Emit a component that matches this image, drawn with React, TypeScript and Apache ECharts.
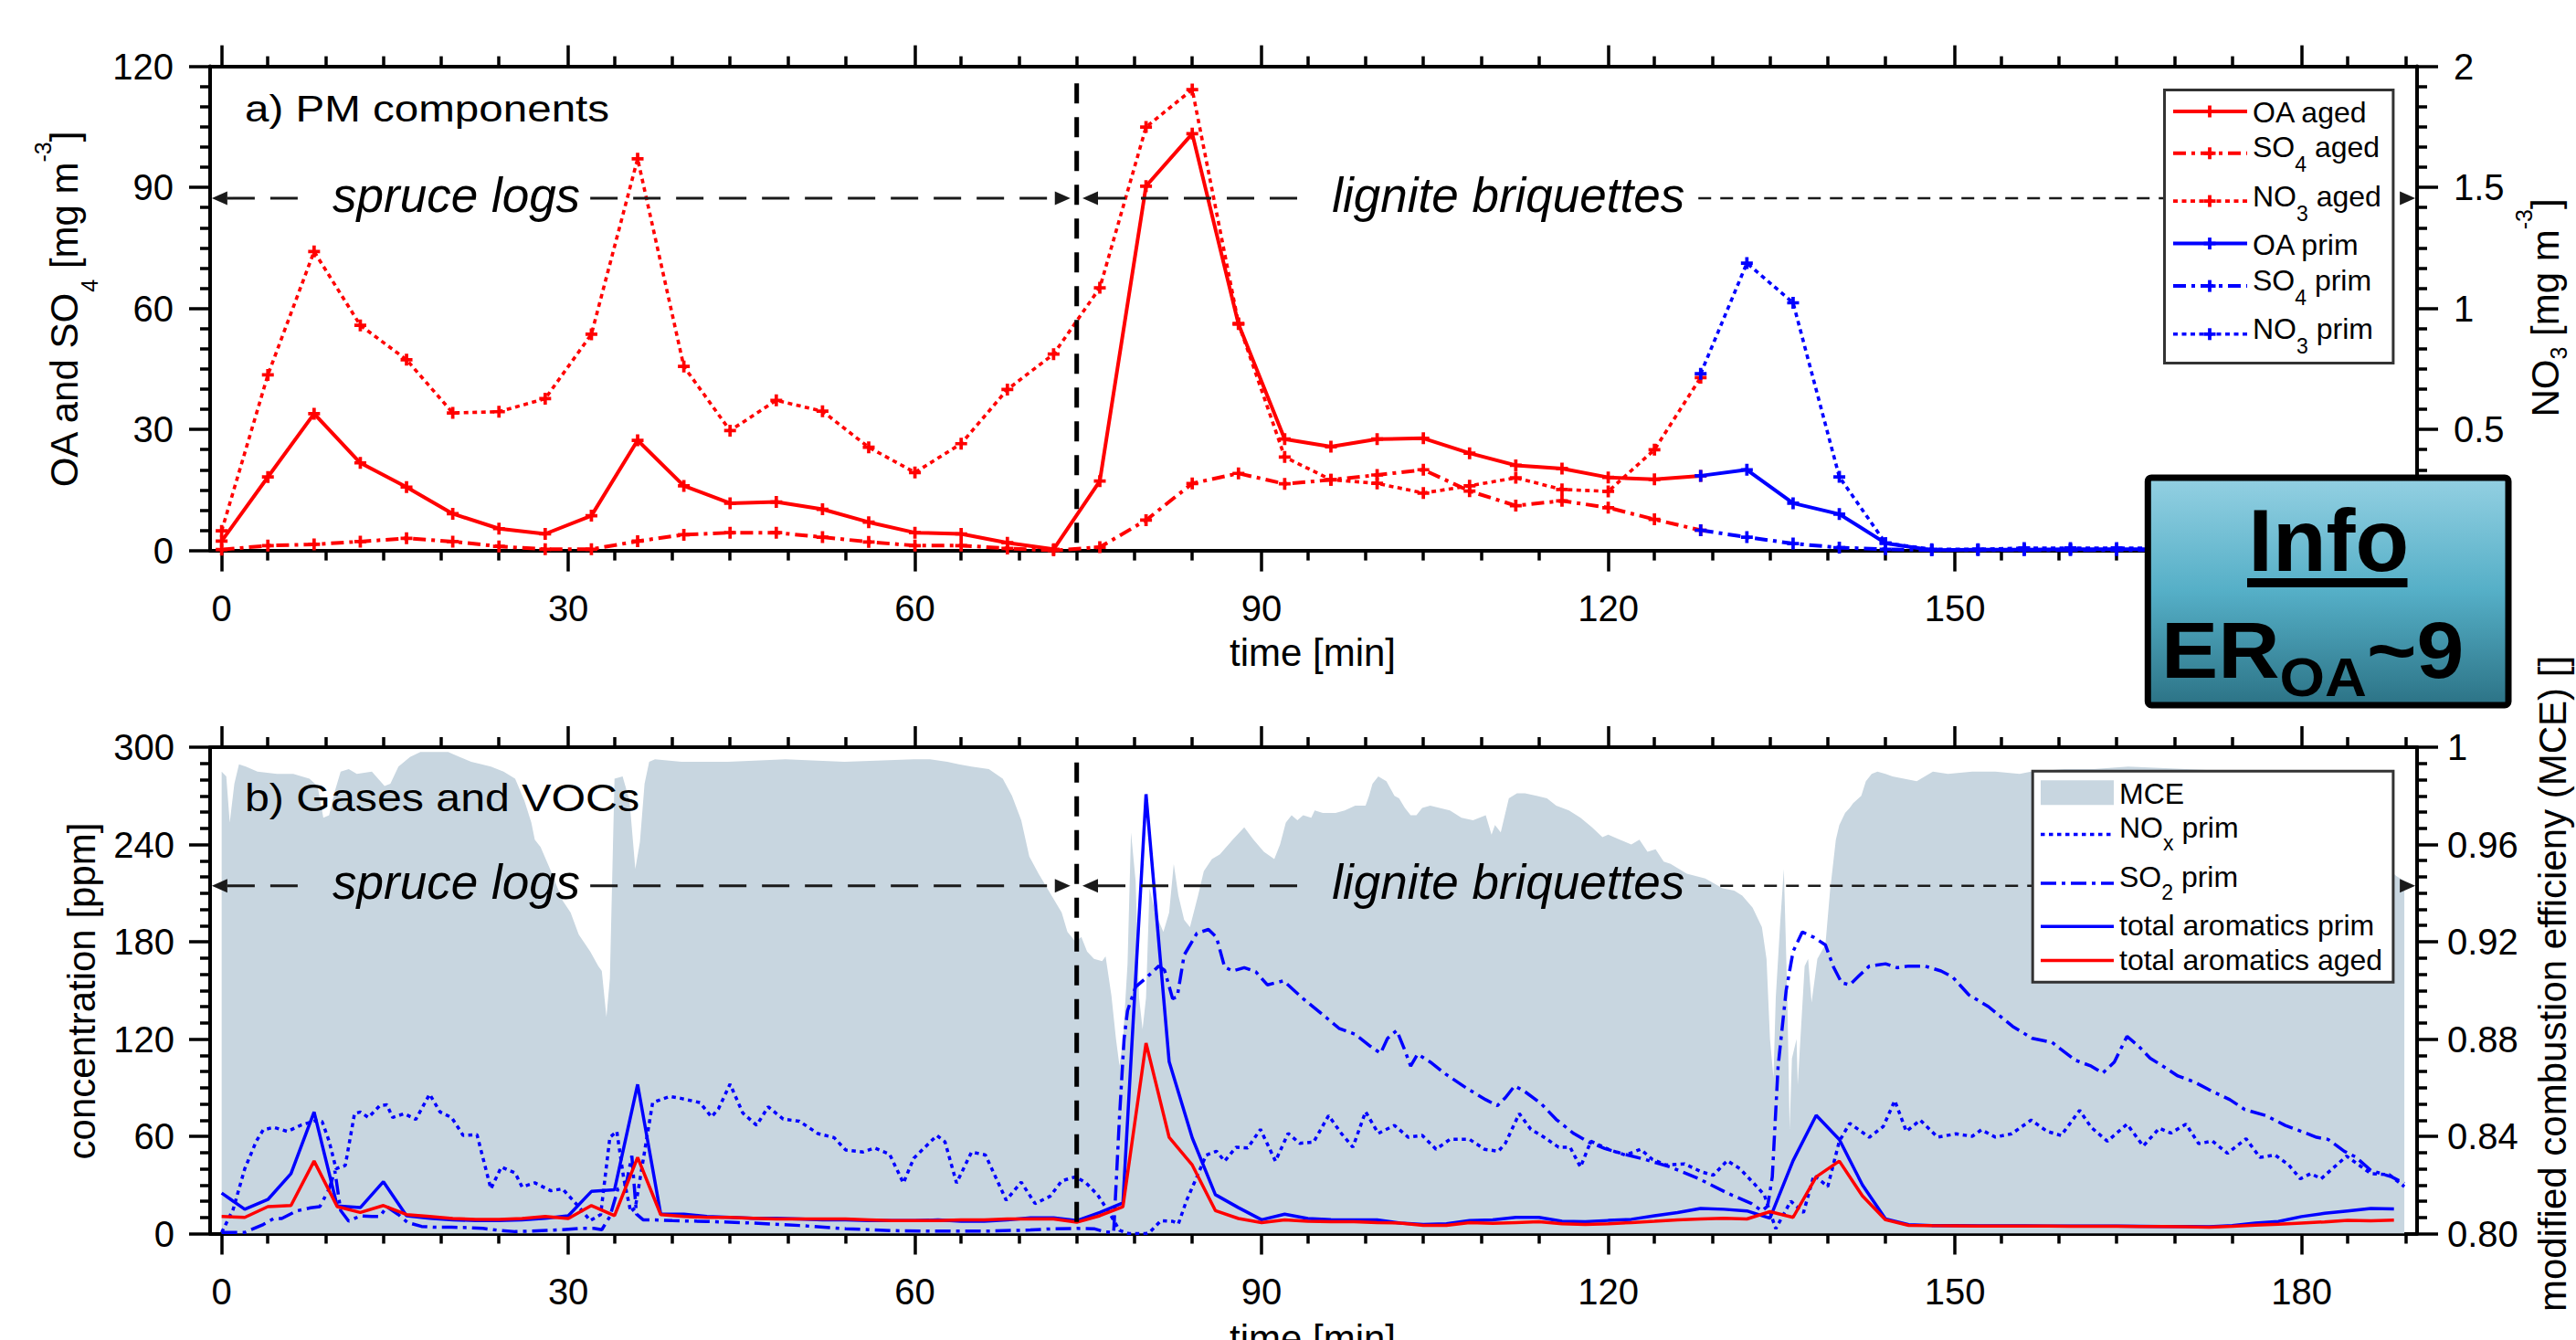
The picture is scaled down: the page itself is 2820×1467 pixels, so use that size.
import React, { useEffect, useRef } from 'react';
import * as echarts from 'echarts';

const FONT = "'Liberation Sans', Arial, Helvetica, sans-serif";
const RED = '#ff0000';
const BLUE = '#0000ff';
const MCE_COLOR = '#c8d6e0';
const DARK = '#1a1a1a';

// ---------- axis ticks ----------
const majorTicks = [0, 30, 60, 90, 120, 150, 180];
const minorTicks = [4, 9, 14, 19, 24, 34, 39, 44, 49, 54, 64, 69, 74, 79, 84, 94, 99, 104, 109, 114, 124, 129, 134, 139, 144, 154, 159, 164, 169, 174, 184, 189];

// ---------- panel a) PM components (every 4 min) ----------
const pmTimeAged = [0, 4, 8, 12, 16, 20, 24, 28, 32, 36, 40, 44, 48, 52, 56, 60, 64, 68, 72, 76, 80, 84, 88, 92, 96, 100, 104, 108, 112, 116, 120, 124, 128];
const oaAged = [2.3, 18.2, 33.9, 21.7, 15.7, 9.1, 5.4, 4.1, 8.6, 27.3, 16.0, 11.7, 12.0, 10.2, 7.0, 4.4, 4.1, 1.9, 0.3, 17.2, 90.3, 103.3, 56.1, 27.6, 25.7, 27.6, 27.8, 24.1, 21.1, 20.3, 18.1, 17.6, 18.5];
const so4Aged = [0.2, 1.2, 1.5, 2.2, 3.0, 2.2, 1.0, 0.3, 0.3, 2.3, 3.9, 4.4, 4.4, 3.3, 2.1, 1.2, 1.2, 0.5, 0.0, 0.8, 7.5, 16.6, 19.1, 16.5, 17.5, 18.7, 20.0, 14.7, 11.1, 12.3, 10.6, 7.7, 5.0];
const no3Aged = [0.081, 0.725, 1.235, 0.93, 0.788, 0.568, 0.573, 0.627, 0.893, 1.618, 0.76, 0.495, 0.62, 0.575, 0.426, 0.322, 0.441, 0.665, 0.811, 1.085, 1.749, 1.904, 0.938, 0.386, 0.292, 0.277, 0.237, 0.267, 0.3, 0.252, 0.244, 0.416, 0.714];
const pmTimePrim = [128, 132, 136, 140, 144, 148, 152, 156, 160, 164, 168, 172, 176, 180, 184, 188];
const oaPrim = [18.5, 20.0, 11.7, 9.0, 1.8, 0.1, 0.2, 0.2, 0.3, 0.3, 0.3, 0.3, 0.3, 0.3, 0.3, 0.3];
const so4Prim = [5.0, 3.3, 1.7, 0.7, 0.3, 0.1, 0.1, 0.1, 0.1, 0.1, 0.1, 0.1, 0.1, 0.1, 0.1, 0.1];
const no3Prim = [0.73, 1.187, 1.023, 0.304, 0.03, 0.005, 0.005, 0.01, 0.01, 0.01, 0.01, 0.01, 0.01, 0.01, 0.01, 0.01];

// ---------- panel b) Gases and VOCs ----------
const aromTime = [0, 2, 4, 6, 8, 10, 12, 14, 16, 18, 20, 22, 24, 26, 28, 30, 32, 34, 36, 38, 40, 42, 44, 46, 48, 50, 52, 54, 56, 58, 60, 62, 64, 66, 68, 70, 72, 74, 76, 78, 80, 82, 84, 86, 88, 90, 92, 94, 96, 98, 100, 102, 104, 106, 108, 110, 112, 114, 116, 118, 120, 122, 124, 126, 128, 130, 132, 134, 136, 138, 140, 142, 144, 146, 148, 150, 152, 154, 156, 158, 160, 162, 164, 166, 168, 170, 172, 174, 176, 178, 180, 182, 184, 186, 188];
const aromPrim = [25, 15, 21, 37, 75, 17, 16, 32, 11, 9.5, 8.5, 8, 8, 8.5, 9.5, 11, 26, 27, 92, 12, 12, 10.5, 10, 9.5, 9.5, 9, 8.5, 8.5, 8, 8, 8, 8.4, 7.6, 7.6, 8.4, 9.7, 9.7, 8, 13, 19, 271, 106, 59, 24, 16, 8.5, 12, 9.3, 8.6, 8.5, 8.4, 6.5, 5.6, 6.1, 8, 8.5, 10, 10, 7.6, 7.3, 8.1, 8.8, 11, 13, 15.5, 15, 14, 9.5, 45, 73, 58, 30, 9, 5.5, 5, 5, 4.8, 4.8, 4.8, 4.7, 4.7, 4.6, 4.6, 4.5, 4.4, 4.3, 4.2, 5, 6.5, 7.5, 10.5, 12.5, 14, 15.5, 15.2];
const aromAged = [10.5, 10, 16.6, 17.3, 44.7, 16.6, 13, 17.3, 11.7, 10.5, 9.3, 8.8, 8.8, 9.3, 10.5, 9.3, 17.3, 11, 47, 11.7, 10.5, 10, 10, 9.5, 9, 9, 9, 9, 8.5, 8, 8, 8, 8.5, 8.5, 9, 9, 9, 7, 11, 16.6, 117.5, 59.4, 42.3, 14.2, 9.3, 6.8, 8.5, 7.6, 7.3, 7.3, 6.8, 6.5, 5.1, 5.1, 6.8, 6.3, 6.8, 7.3, 6.1, 5.6, 6.1, 6.8, 7.6, 8.5, 9, 9.5, 9, 13.5, 10, 35, 44.7, 23.2, 8.5, 5.1, 4.9, 4.8, 4.7, 4.7, 4.6, 4.6, 4.5, 4.5, 4.5, 4.4, 4.3, 4.2, 3.9, 4.5, 5.2, 5.8, 6.5, 7.2, 8.2, 7.9, 8.3];

// [time, ppm]
const noxPrim: number[][] = [[0, 0.7], [1, 15], [2, 40], [3, 57], [3.6, 64], [4.5, 65.5], [5.7, 63], [6.9, 67], [8.3, 70], [8.7, 69], [9.3, 57], [9.9, 40], [10.7, 42], [11.5, 74], [12, 75], [12.7, 71.6], [13.7, 79], [14.3, 79.4], [14.8, 71.6], [15.8, 74], [16.8, 70.4], [18, 86], [18.9, 75], [19.9, 71.6], [20.9, 60.6], [22.1, 61], [23.3, 27.6], [24.2, 41], [25.4, 37.4], [26, 28.8], [27.1, 31.3], [28.5, 26.4], [29.5, 27.6], [30.9, 16.6], [31.9, 8], [32.8, 11.7], [33.6, 59.4], [34.2, 63], [34.8, 33.8], [35.4, 13.5], [35.8, 16], [37.3, 80.8], [38.8, 84.6], [39.8, 83.3], [41.4, 80.8], [42.4, 71.9], [43, 77], [44, 92.2], [45.1, 74.4], [46.3, 66.8], [47.3, 78.2], [48.6, 70.6], [50, 69.3], [51.6, 61.7], [53, 59.2], [54, 51.6], [55.5, 50.3], [56.5, 52.8], [57.8, 49], [59, 31.2], [59.9, 46.5], [61.9, 60.5], [62.6, 56.6], [63.6, 31.2], [64.9, 50.3], [66.1, 48.5], [67.9, 20.6], [69.2, 31.7], [70.4, 18.5], [71.7, 23], [72.7, 32.5], [73.9, 35], [74.8, 31.3], [75.8, 24], [76.8, 13], [77.7, 2], [78.5, 0], [80, 0], [80.3, 0.7], [81.3, 8], [82.3, 7.6], [82.8, 6], [83.5, 20.3], [84.4, 35], [85.2, 48.4], [86.1, 50.8], [86.8, 44.7], [87.8, 53.3], [88.8, 52.8], [89.9, 64.3], [91.2, 44.7], [92.3, 61.8], [93.3, 55.7], [94.5, 56.4], [95.8, 72.8], [96.9, 61.8], [97.9, 53.3], [99, 75.2], [100.1, 61.8], [101.5, 66.7], [102.7, 59.4], [103.9, 60.6], [105.1, 52], [106.3, 58.1], [108, 58.1], [109.3, 52], [110.5, 50.8], [111.1, 55.7], [112.3, 74], [113.3, 64.3], [114.2, 60.6], [115.7, 53.3], [116.7, 53.3], [117.6, 41], [118.5, 57], [120, 52], [121.5, 48.4], [122.8, 52], [123.8, 45.9], [125, 42.3], [126.6, 43], [128.1, 38], [129.1, 36], [130.3, 45], [131.4, 40], [132.6, 31], [133.5, 24], [134.5, 3], [135.8, 20], [136.9, 13], [137.8, 36], [139, 29], [140, 57], [140.9, 68], [142.6, 59.4], [143.8, 66], [144.8, 82], [145.8, 63], [147, 70], [148.5, 59.5], [150.1, 61.5], [151.5, 60], [152.3, 64], [153.5, 59.5], [154.9, 61.5], [156.6, 70], [158, 63], [159.2, 60.5], [160.8, 76], [161.8, 65.5], [163.2, 57], [164.9, 67.5], [166.3, 54], [167.7, 65], [168.7, 62], [170, 67.5], [171.1, 55.5], [172.3, 57], [173.6, 49.5], [175.2, 58.5], [176.4, 47], [177.7, 48.5], [178.9, 42.3], [179.9, 33.8], [180.8, 37], [181.7, 33.8], [183.9, 47.8], [186, 37], [187.6, 36.3], [188.9, 29]];

const so2Prim: number[][] = [[0, 0.7], [2, 0.7], [3.6, 5.6], [4.5, 9.3], [5.2, 9.3], [6.5, 14], [7.7, 15.9], [8.5, 16.6], [9.3, 27.6], [9.8, 38.6], [10.3, 14.2], [11, 7.6], [12, 11], [13, 10.5], [13.7, 10.5], [14.3, 16.6], [15.3, 11.7], [16.1, 6.8], [17.3, 4.4], [18.5, 3.9], [19.9, 3.9], [21.3, 3.7], [22.6, 3.2], [24, 2], [25.4, 1.2], [26.8, 1.5], [28.1, 2], [29.5, 2.4], [30.9, 3.2], [32.2, 3.2], [32.9, 2.4], [33.6, 10.5], [34.3, 27.6], [35, 30], [35.5, 48], [35.9, 12], [36.5, 8.4], [37.5, 8.4], [39, 8], [42, 7.5], [46, 6.5], [50, 5], [54, 3], [58, 1.8], [62, 1.5], [66, 1.5], [70, 2.2], [72, 3], [74, 3.2], [75.5, 3], [76.5, 1], [77.2, 0.7], [77.7, 71.6], [78.1, 120], [78.4, 137.5], [79.1, 152.2], [80.1, 158.3], [81.1, 165], [81.6, 162.5], [82.3, 144.9], [82.7, 146], [83.3, 171.8], [84.4, 185.2], [85.4, 187.6], [86.1, 182.7], [86.8, 164.4], [87.5, 162], [88.5, 164], [89.5, 161.5], [90.5, 153.4], [91.9, 155.9], [93.6, 144.9], [95.3, 135], [96.7, 126.6], [98.1, 122.9], [99.4, 115.6], [100.3, 111.2], [100.9, 120.4], [101.7, 125.3], [102.4, 113], [102.9, 103.3], [103.5, 110.7], [104.6, 105.8], [105.9, 98.5], [107.7, 89.9], [109.4, 82.6], [110.4, 78.9], [111.1, 83.8], [111.9, 91.1], [112.8, 87.5], [114.2, 80.1], [115.5, 70.4], [117, 61.8], [118.3, 56.4], [119.7, 52.5], [121.4, 48.9], [123.1, 45.9], [125.4, 41], [127.8, 34], [130.3, 25], [132.4, 18.5], [133.3, 14], [133.8, 17], [134.2, 35], [134.7, 103], [135.4, 150], [136, 174], [136.8, 186], [137.8, 182.7], [138.8, 178], [139.5, 164.4], [140.2, 154.7], [140.9, 153.4], [141.6, 158.3], [142.6, 165], [144, 166.4], [145, 164], [146, 165], [147.4, 165], [148.8, 162], [149.8, 158.3], [151.2, 147.3], [152.9, 140], [155, 127.8], [156.7, 120.4], [158.4, 118], [160.4, 107], [161.8, 103.3], [162.8, 99], [163.8, 105.8], [164.9, 121.7], [165.9, 115.6], [166.9, 108.2], [168, 103.3], [169.3, 97.2], [170.7, 93.6], [172, 88.7], [173.8, 82.6], [175.1, 76.5], [176.9, 72.8], [178.6, 66.7], [180, 63], [181.3, 59.4], [182.3, 58.1], [183.7, 50.8], [184.7, 47.2], [186, 39], [187.8, 35], [188.9, 31]];

// [time, MCE]
const mce: number[][] = [[0, 0.99], [0.4, 0.988], [0.7, 0.969], [1.1, 0.985], [1.5, 0.993], [2.1, 0.992], [3.1, 0.99], [4.8, 0.989], [6.2, 0.989], [7.6, 0.987], [8.3, 0.984], [8.8, 0.971], [9.3, 0.972], [9.8, 0.982], [10.3, 0.99], [11, 0.991], [11.7, 0.989], [13, 0.99], [14.1, 0.984], [14.6, 0.985], [15.3, 0.992], [16.3, 0.996], [17.2, 0.998], [18.5, 0.998], [19.6, 0.998], [20.6, 0.996], [21.6, 0.994], [22.5, 0.993], [23.3, 0.992], [24.4, 0.99], [25.4, 0.987], [26.2, 0.978], [26.8, 0.969], [27.1, 0.962], [27.6, 0.959], [28.5, 0.949], [29.5, 0.937], [30.2, 0.932], [30.9, 0.923], [31.9, 0.916], [32.6, 0.91], [32.9, 0.908], [33.3, 0.889], [33.6, 0.905], [34, 0.987], [34.7, 0.988], [35.3, 0.978], [35.8, 0.95], [36.2, 0.961], [36.6, 0.985], [37, 0.994], [37.5, 0.995], [39.8, 0.994], [43.8, 0.994], [48.8, 0.995], [53.9, 0.994], [59.9, 0.995], [61.3, 0.995], [62.8, 0.994], [63.8, 0.993], [64.9, 0.992], [66.4, 0.991], [67.6, 0.987], [68.4, 0.98], [69.2, 0.97], [69.9, 0.955], [70.7, 0.948], [71.7, 0.94], [72.7, 0.932], [73.2, 0.924], [73.9, 0.92], [74.4, 0.922], [74.9, 0.916], [75.5, 0.913], [76.2, 0.912], [76.5, 0.914], [77, 0.898], [77.4, 0.88], [77.7, 0.869], [78, 0.879], [78.4, 0.911], [78.7, 0.965], [79.1, 0.945], [79.4, 0.897], [79.7, 0.884], [80, 0.897], [80.3, 0.942], [80.8, 0.932], [81.5, 0.924], [82, 0.932], [82.4, 0.952], [82.8, 0.939], [83.3, 0.929], [83.8, 0.926], [84.5, 0.939], [85, 0.949], [85.7, 0.954], [86.4, 0.956], [87.5, 0.962], [88.5, 0.967], [89.3, 0.962], [90.2, 0.957], [91.1, 0.954], [91.6, 0.96], [92.1, 0.969], [92.6, 0.972], [93.1, 0.97], [93.6, 0.972], [94.3, 0.971], [94.6, 0.974], [95.3, 0.973], [96.4, 0.973], [97.2, 0.974], [98.1, 0.976], [99, 0.976], [99.3, 0.98], [99.6, 0.985], [100.1, 0.988], [100.8, 0.986], [101.5, 0.98], [101.9, 0.979], [102.4, 0.975], [102.9, 0.972], [103.4, 0.972], [103.9, 0.975], [104.6, 0.976], [105.4, 0.975], [106.3, 0.974], [107.3, 0.971], [108.3, 0.97], [109.4, 0.972], [109.9, 0.964], [110.2, 0.968], [110.7, 0.965], [111.4, 0.979], [112.1, 0.981], [112.8, 0.981], [113.8, 0.98], [114.7, 0.979], [115.5, 0.976], [116.6, 0.974], [117.6, 0.971], [118.6, 0.967], [119.5, 0.963], [120, 0.964], [121, 0.962], [122, 0.96], [122.7, 0.962], [123.4, 0.957], [124.1, 0.958], [124.8, 0.953], [125.4, 0.952], [126.8, 0.948], [128.4, 0.946], [129.9, 0.942], [130.9, 0.941], [131.6, 0.939], [132.5, 0.934], [133.3, 0.926], [133.7, 0.913], [134, 0.88], [134.3, 0.864], [134.5, 0.897], [134.9, 0.929], [135.2, 0.95], [135.5, 0.897], [135.7, 0.843], [135.9, 0.872], [136.3, 0.88], [136.4, 0.861], [137, 0.91], [137.3, 0.913], [137.6, 0.895], [138.1, 0.913], [138.8, 0.919], [139.2, 0.941], [139.7, 0.962], [140, 0.968], [140.5, 0.973], [140.9, 0.975], [141.2, 0.977], [141.9, 0.98], [142.3, 0.986], [142.8, 0.989], [143.3, 0.99], [144, 0.989], [144.6, 0.988], [145.6, 0.987], [146.7, 0.986], [147.4, 0.988], [148.1, 0.99], [149.4, 0.989], [151.5, 0.99], [153.5, 0.99], [155.6, 0.989], [156.6, 0.99], [159.5, 0.991], [162, 0.991], [165, 0.992], [170, 0.991], [175, 0.99], [180, 0.988], [184, 0.98], [186, 0.965], [187.5, 0.95], [188.2, 0.947], [188.9, 0.945]];

// ---------- styles ----------
const PLUS = 'path://M5,0H9V5H14V9H9V14H5V9H0V5H5Z';
const SOLID = 'solid';
const DASHDOT_TOP = [14, 6, 4, 6];
const DOT_TOP = [5, 4.5];
const DASHDOT_BOT = [17, 6, 4, 6];
const DOT_BOT = [4.5, 4.5];

const axisLineStyle = { color: '#000', width: 4 };
const tickStyle = { color: '#000', width: 3.5 };
const labelStyle = { fontSize: 40, fontFamily: FONT, color: '#000' };

function xAxesFor(gridIndex: number) {
  const base = { gridIndex, type: 'value', min: -1, max: 190, splitLine: { show: false } };
  return [
    { ...base, position: 'bottom', axisLine: { show: true, onZero: false, lineStyle: axisLineStyle }, axisTick: { show: true, length: 23, lineStyle: tickStyle, customValues: majorTicks }, axisLabel: { show: true, ...labelStyle, margin: 43, customValues: majorTicks } },
    { ...base, position: 'bottom', axisLine: { show: false, onZero: false }, axisTick: { show: true, length: 11, lineStyle: tickStyle, customValues: minorTicks }, axisLabel: { show: false, customValues: minorTicks } },
    { ...base, position: 'top', axisLine: { show: true, onZero: false, lineStyle: axisLineStyle }, axisTick: { show: true, length: 23, lineStyle: tickStyle, customValues: majorTicks }, axisLabel: { show: false, customValues: majorTicks } },
    { ...base, position: 'top', axisLine: { show: false, onZero: false }, axisTick: { show: true, length: 11, lineStyle: tickStyle, customValues: minorTicks }, axisLabel: { show: false, customValues: minorTicks } },
  ];
}

function yAxis(gridIndex: number, position: string, min: number, max: number, interval: number, margin: number, formatter?: (v: number) => string) {
  return {
    gridIndex, type: 'value', position, min, max, interval,
    axisLine: { show: true, onZero: false, lineStyle: axisLineStyle },
    axisTick: { show: true, length: 23, lineStyle: tickStyle },
    minorTick: { show: true, splitNumber: 6, length: 11, lineStyle: tickStyle },
    axisLabel: { ...labelStyle, margin, ...(formatter ? { formatter } : {}) },
    splitLine: { show: false },
    minorSplitLine: { show: false },
  };
}

const zip = (t: number[], v: number[]) => t.map((x, i) => [x, v[i]]);

function pmLine(name: string, t: number[], v: number[], color: string, type: any, width: number, yAxisIndex: number) {
  return {
    name, type: 'line', xAxisIndex: 0, yAxisIndex, data: zip(t, v),
    symbol: PLUS, symbolSize: 13, showSymbol: true,
    lineStyle: { color, width, type, cap: 'butt' },
    itemStyle: { color, borderWidth: 0 },
    emphasis: { disabled: true }, z: 3,
  };
}

function gasLine(name: string, data: number[][], color: string, type: any, width: number) {
  return {
    name, type: 'line', xAxisIndex: 4, yAxisIndex: 2, data,
    symbol: 'none', showSymbol: false,
    lineStyle: { color, width, type, cap: 'butt' },
    itemStyle: { color },
    emphasis: { disabled: true }, z: 3,
  };
}

const option: any = {
  animation: false,
  backgroundColor: '#fff',
  grid: [
    { left: 230, top: 72.6, width: 2416, height: 530, containLabel: false },
    { left: 230, top: 818, width: 2416, height: 532.5, containLabel: false },
  ],
  xAxis: [...xAxesFor(0), ...xAxesFor(1)],
  yAxis: [
    yAxis(0, 'left', 0, 120, 30, 40),
    yAxis(0, 'right', 0, 2, 0.5, 40),
    yAxis(1, 'left', 0, 300, 60, 39),
    yAxis(1, 'right', 0.8, 1.0, 0.04, 33, (v: number) => (Math.abs(v - 1) < 1e-9 ? '1' : v.toFixed(2))),
  ],
  series: [
    pmLine('OA aged', pmTimeAged, oaAged, RED, SOLID, 4, 0),
    pmLine('SO4 aged', pmTimeAged, so4Aged, RED, DASHDOT_TOP, 4, 0),
    pmLine('NO3 aged', pmTimeAged, no3Aged, RED, DOT_TOP, 3.6, 1),
    pmLine('OA prim', pmTimePrim, oaPrim, BLUE, SOLID, 4, 0),
    pmLine('SO4 prim', pmTimePrim, so4Prim, BLUE, DASHDOT_TOP, 4, 0),
    pmLine('NO3 prim', pmTimePrim, no3Prim, BLUE, DOT_TOP, 3.6, 1),
    {
      name: 'MCE', type: 'line', xAxisIndex: 4, yAxisIndex: 3, data: mce,
      symbol: 'none', showSymbol: false,
      lineStyle: { width: 0, color: MCE_COLOR },
      areaStyle: { color: MCE_COLOR, opacity: 1, origin: 'start' },
      emphasis: { disabled: true }, z: 1,
    },
    gasLine('NOx prim', noxPrim, BLUE, DOT_BOT, 3.5),
    gasLine('SO2 prim', so2Prim, BLUE, DASHDOT_BOT, 3.5),
    gasLine('total aromatics prim', zip(aromTime, aromPrim), BLUE, SOLID, 3.5),
    gasLine('total aromatics aged', zip(aromTime, aromAged), RED, SOLID, 3.5),
  ],
};

function txt(x: number, y: number, text: string, extra: any = {}, el: any = {}) {
  return {
    type: 'text', x, y, z: 60, silent: true, ...el,
    style: { text, fontSize: 42, fontFamily: FONT, fill: '#000', align: 'left', verticalAlign: 'middle', ...extra },
  };
}

function subRich(main: number, sub: number, pad: number, weight = 'normal') {
  return {
    m: { fontSize: main, fontFamily: FONT, fontWeight: weight, fill: '#000' },
    s: { fontSize: sub, fontFamily: FONT, fontWeight: weight, fill: '#000', padding: [pad, 0, 0, 0] },
    p: { fontSize: sub, fontFamily: FONT, fontWeight: weight, fill: '#000', padding: [0, 0, 46, 0] },
  };
}

export default function App() {
  const ref = useRef<HTMLDivElement>(null);
  useEffect(() => {
    const chart = echarts.init(ref.current as HTMLDivElement, null, { renderer: 'svg' });
    chart.setOption(option);

    const P0 = (x: number, y: number) => chart.convertToPixel({ xAxisIndex: 0, yAxisIndex: 0 } as any, [x, y]) as unknown as number[];
    const P1 = (x: number, y: number) => chart.convertToPixel({ xAxisIndex: 4, yAxisIndex: 2 } as any, [x, y]) as unknown as number[];

    const els: any[] = [];
    const head = 17, half = 7.5;
    const arrowL = (x: number, y: number) => ({ type: 'polygon', z: 50, silent: true, shape: { points: [[x, y], [x + head, y - half], [x + head, y + half]] }, style: { fill: DARK } });
    const arrowR = (x: number, y: number) => ({ type: 'polygon', z: 50, silent: true, shape: { points: [[x, y], [x - head, y - half], [x - head, y + half]] }, style: { fill: DARK } });
    const dline = (x1: number, y1: number, x2: number, y2: number, dash: number[], w: number, color = DARK, z = 50) => ({ type: 'line', z, silent: true, shape: { x1, y1, x2, y2 }, style: { stroke: color, lineWidth: w, lineDash: dash } });

    const arrowRow = (P: (x: number, y: number) => number[], yv: number) => {
      const y = P(0, yv)[1];
      const X = (t: number) => P(t, yv)[0];
      const longDash = [30, 17];
      const xl = X(-0.85);
      els.push(arrowL(xl, y));
      els.push(dline(xl + head, y, X(7.8), y, longDash, 3));
      els.push(txt(X(9.6), y - 4, 'spruce logs', { fontSize: 53, fontStyle: 'italic' }));
      const xr = X(73.45);
      els.push(dline(X(31.9), y, xr - head, y, longDash, 3));
      els.push(arrowR(xr, y));
      const xl2 = X(74.5);
      els.push(arrowL(xl2, y));
      els.push(dline(xl2 + head, y, X(94.4), y, longDash, 3));
      els.push(txt(X(96.1), y - 4, 'lignite briquettes', { fontSize: 53, fontStyle: 'italic' }));
      const xr2 = X(189.85);
      els.push(dline(X(127.8), y, xr2 - head, y, [14, 10], 2.5));
      els.push(arrowR(xr2, y));
    };
    arrowRow(P0, 87.3);
    arrowRow(P1, 214.5);

    // vertical separators at t = 74 min
    const a0 = P0(74, 115.8), b0 = P0(74, 0);
    els.push(dline(a0[0], a0[1], b0[0], b0[1], [22, 15], 5, '#000', 45));
    const a1 = P1(74, 290.5), b1 = P1(74, 0);
    els.push(dline(a1[0], a1[1], b1[0], b1[1], [22, 15], 5, '#000', 45));

    // panel titles
    els.push(txt(268, 119, 'a) PM components', { fontSize: 41 }, { scaleX: 1.16 }));
    els.push(txt(268, 874, 'b) Gases and VOCs', { fontSize: 42 }, { scaleX: 1.15 }));

    // axis titles
    els.push(txt(1437, 714, 'time [min]', { fontSize: 42, align: 'center' }));
    els.push(txt(1437, 1465, 'time [min]', { fontSize: 42, align: 'center' }));
    els.push(txt(70.3, 339, '{m|OA and SO}{s|4}{m| [mg m}{p|-3}{m|]}', { align: 'center', rich: subRich(42, 25, 56) }, { rotation: Math.PI / 2 }));
    els.push(txt(2786, 337, '{m|NO}{s|3}{m| [mg m}{p|-3}{m|]}', { align: 'center', rich: subRich(42, 25, 30) }, { rotation: Math.PI / 2 }));
    els.push(txt(89.5, 1085, 'concentration [ppm]', { fontSize: 42, align: 'center' }, { rotation: Math.PI / 2 }));
    els.push(txt(2794, 1077, 'modified combustion efficieny (MCE) []', { fontSize: 42, align: 'center' }, { rotation: Math.PI / 2 }));

    // legend a)
    const LZ = 100;
    els.push({ type: 'rect', z: LZ, silent: true, shape: { x: 2369.5, y: 98.6, width: 250.4, height: 298.9 }, style: { fill: '#fff', stroke: '#333', lineWidth: 3 } });
    const legA = [
      { t: '{m|OA aged}', c: RED, d: [] as number[], w: 4, y: 122, ty: 122.5 },
      { t: '{m|SO}{s|4}{m| aged}', c: RED, d: DASHDOT_TOP, w: 4, y: 167.8, ty: 161 },
      { t: '{m|NO}{s|3}{m| aged}', c: RED, d: DOT_TOP, w: 3.6, y: 220.1, ty: 215 },
      { t: '{m|OA prim}', c: BLUE, d: [] as number[], w: 4, y: 266.6, ty: 268 },
      { t: '{m|SO}{s|4}{m| prim}', c: BLUE, d: DASHDOT_TOP, w: 4, y: 313.1, ty: 307 },
      { t: '{m|NO}{s|3}{m| prim}', c: BLUE, d: DOT_TOP, w: 3.6, y: 365.8, ty: 360.3 },
    ];
    legA.forEach((r) => {
      els.push(dline(2379, r.y, 2460, r.y, r.d, r.w, r.c, LZ + 1));
      els.push({ type: 'rect', z: LZ + 2, silent: true, shape: { x: 2412.5, y: r.y - 1.9, width: 13, height: 3.8 }, style: { fill: r.c } });
      els.push({ type: 'rect', z: LZ + 2, silent: true, shape: { x: 2417.1, y: r.y - 6.5, width: 3.8, height: 13 }, style: { fill: r.c } });
      els.push(txt(2466, r.ty, r.t, { rich: subRich(32, 23, 38) }, { z: LZ + 2 }));
    });

    // legend b)
    els.push({ type: 'rect', z: LZ, silent: true, shape: { x: 2225.2, y: 844.2, width: 394.7, height: 231.1 }, style: { fill: '#fff', stroke: '#333', lineWidth: 3 } });
    els.push({ type: 'rect', z: LZ + 1, silent: true, shape: { x: 2234, y: 854.2, width: 80, height: 27 }, style: { fill: MCE_COLOR } });
    els.push(txt(2320, 868.5, '{m|MCE}', { rich: subRich(32, 23, 33) }, { z: LZ + 2 }));
    const legB = [
      { t: '{m|NO}{s|x}{m| prim}', c: BLUE, d: DOT_BOT, y: 913.6, ty: 906.2 },
      { t: '{m|SO}{s|2}{m| prim}', c: BLUE, d: DASHDOT_BOT, y: 966.9, ty: 960.3 },
      { t: '{m|total aromatics prim}', c: BLUE, d: [] as number[], y: 1014.2, ty: 1013 },
      { t: '{m|total aromatics aged}', c: RED, d: [] as number[], y: 1051.5, ty: 1051 },
    ];
    legB.forEach((r) => {
      els.push(dline(2234, r.y, 2314, r.y, r.d, 3.5, r.c, LZ + 1));
      els.push(txt(2320, r.ty, r.t, { rich: subRich(32, 23, 33) }, { z: LZ + 2 }));
    });

    // Info box
    const IZ = 120;
    els.push({
      type: 'rect', z: IZ, silent: true,
      shape: { x: 2351.3, y: 522.9, width: 394.7, height: 249.1, r: 4 },
      style: {
        fill: new echarts.graphic.LinearGradient(0, 0, 0, 1, [
          { offset: 0, color: '#93d0e2' },
          { offset: 0.5, color: '#55afc7' },
          { offset: 1, color: '#2c7386' },
        ]),
        stroke: '#000', lineWidth: 7,
      },
    });
    els.push(txt(2549.2, 591.7, 'Info', { fontSize: 96, fontWeight: 'bold', align: 'center' }, { z: IZ + 1 }));
    els.push({ type: 'rect', z: IZ + 1, silent: true, shape: { x: 2460, y: 633, width: 175.5, height: 10 }, style: { fill: '#000' } });
    els.push(txt(2366, 711, '{b|ER}{s|OA}{b|~9}', {
      rich: {
        b: { fontSize: 88, fontWeight: 'bold', fontFamily: FONT, fill: '#000' },
        s: { fontSize: 60, fontWeight: 'bold', fontFamily: FONT, fill: '#000', padding: [61, 0, 0, 0] },
      },
    }, { z: IZ + 1, scaleX: 1.06 }));

    chart.setOption({ graphic: { elements: els } });
    return () => chart.dispose();
  }, []);
  return <div ref={ref} style={{ position: 'absolute', left: 0, top: 0, width: 2820, height: 1467, background: '#fff' }} />;
}
